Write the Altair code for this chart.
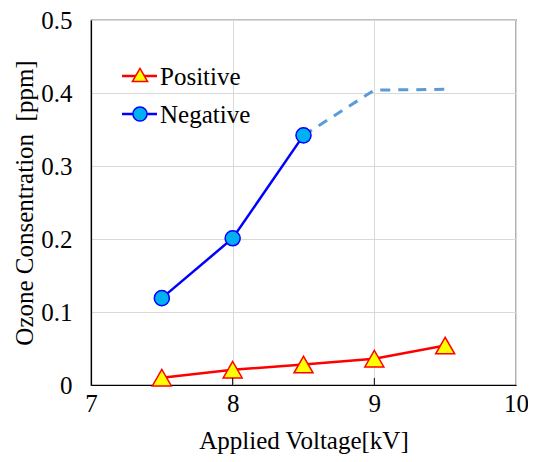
import altair as alt
import pandas as pd

# Data
voltage_pos = [7.5, 8.0, 8.5, 9.0, 9.5]
ozone_pos = [0.010, 0.021, 0.028, 0.036, 0.054]

voltage_neg = [7.5, 8.0, 8.5]
ozone_neg = [0.119, 0.201, 0.342]

voltage_neg_dash = [8.5, 9.0, 9.5]
ozone_neg_dash = [0.342, 0.404, 0.405]

x_ticks = [7, 8, 9, 10]
y_ticks = [0, 0.1, 0.2, 0.3, 0.4, 0.5]

legend_labels = ["Positive", "Negative"]

FONT = "Liberation Serif"
FS = 25

pos_df = pd.DataFrame({"v": voltage_pos, "o": ozone_pos})
neg_df = pd.DataFrame({"v": voltage_neg, "o": ozone_neg})
dash_df = pd.DataFrame({"v": voltage_neg_dash, "o": ozone_neg_dash})
tick_df = pd.DataFrame({"v": x_ticks[1:-1]})

xs = alt.Scale(domain=[7, 10], nice=False)
ys = alt.Scale(domain=[0, 0.5], nice=False)

xenc = alt.X("v:Q", scale=xs, axis=alt.Axis(
    values=x_ticks, title="Applied Voltage[kV]", format="d",
    grid=True, gridColor="#D9D9D9", tickSize=0, labelPadding=6,
    labelFlush=False, titlePadding=12, domainColor="black",
    labelFont=FONT, titleFont=FONT, labelFontSize=FS, titleFontSize=FS,
    labelColor="black", titleColor="black", titleFontWeight="normal"))
yenc = alt.Y("o:Q", scale=ys, axis=alt.Axis(
    values=y_ticks, title="Ozone Consentration\u00a0\u00a0[ppm]",
    grid=True, gridColor="#D9D9D9", tickSize=0, labelPadding=19,
    labelFlush=False, titlePadding=3, domainColor="black",
    labelFont=FONT, titleFont=FONT, labelFontSize=FS, titleFontSize=FS,
    labelColor="black", titleColor="black", titleFontWeight="normal",
    labelExpr="datum.value == 0 ? '0' : format(datum.value, '.1f')"))

dash = alt.Chart(dash_df).mark_line(
    color="#5B9BD5", strokeWidth=3, strokeDash=[10, 8]
).encode(x=xenc, y=yenc)

neg_line = alt.Chart(neg_df).mark_line(color="#0000FF", strokeWidth=2.5).encode(
    x=alt.X("v:Q", scale=xs), y=alt.Y("o:Q", scale=ys))
neg_pts = alt.Chart(neg_df).mark_point(
    shape="circle", filled=True, fill="#00B0F0", stroke="#0000FF",
    strokeWidth=1.5, size=227, opacity=1
).encode(x=alt.X("v:Q", scale=xs), y=alt.Y("o:Q", scale=ys))

pos_line = alt.Chart(pos_df).mark_line(color="#FF0000", strokeWidth=2.5).encode(
    x=alt.X("v:Q", scale=xs), y=alt.Y("o:Q", scale=ys))
pos_pts = alt.Chart(pos_df).mark_point(
    shape="triangle-up", filled=True, fill="#FFFF00", stroke="#FF0000",
    strokeWidth=1.5, size=361, opacity=1
).encode(x=alt.X("v:Q", scale=xs), y=alt.Y("o:Q", scale=ys))

inner_ticks = alt.Chart(tick_df).mark_rule(color="black", strokeWidth=1).encode(
    x=alt.X("v:Q", scale=xs), y=alt.value(365), y2=alt.value(358))

# Manual legend
def leg_df(name):
    return pd.DataFrame({"label": [name]})

leg_pos_line = alt.Chart(leg_df(legend_labels[0])).mark_rule(
    color="#FF0000", strokeWidth=2.5).encode(
    x=alt.value(31), x2=alt.value(66), y=alt.value(56))
leg_pos_pt = alt.Chart(leg_df(legend_labels[0])).mark_point(
    shape="triangle-up", filled=True, fill="#FFFF00", stroke="#FF0000",
    strokeWidth=1.5, size=230, opacity=1).encode(x=alt.value(49), y=alt.value(55))
leg_pos_txt = alt.Chart(leg_df(legend_labels[0])).mark_text(
    font=FONT, fontSize=FS, align="left", baseline="middle", color="black"
).encode(x=alt.value(69), y=alt.value(57), text="label:N")

leg_neg_line = alt.Chart(leg_df(legend_labels[1])).mark_rule(
    color="#0000FF", strokeWidth=2.5).encode(
    x=alt.value(31), x2=alt.value(66), y=alt.value(94))
leg_neg_pt = alt.Chart(leg_df(legend_labels[1])).mark_point(
    shape="circle", filled=True, fill="#00B0F0", stroke="#0000FF",
    strokeWidth=1.5, size=200, opacity=1).encode(x=alt.value(49), y=alt.value(94))
leg_neg_txt = alt.Chart(leg_df(legend_labels[1])).mark_text(
    font=FONT, fontSize=FS, align="left", baseline="middle", color="black"
).encode(x=alt.value(69), y=alt.value(95), text="label:N")

chart = alt.layer(
    dash, neg_line, pos_line, neg_pts, pos_pts, inner_ticks,
    leg_pos_line, leg_pos_pt, leg_pos_txt, leg_neg_line, leg_neg_pt, leg_neg_txt
).properties(
    width=425, height=365,
    autosize=alt.AutoSizeParams(type="none"),
    padding={"left": 83, "top": 12, "right": 12, "bottom": 69},
).configure_view(stroke="black", strokeWidth=1.2).configure_axis(domainWidth=1.2)

chart.save("out.html", embed_options={"renderer": "svg", "actions": False})
